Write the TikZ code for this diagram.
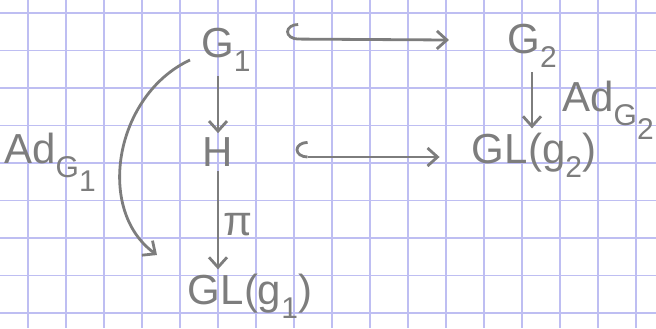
\documentclass[tikz,border=0pt]{standalone}
\usepackage{fontspec}
\setmainfont{Liberation Sans}
\usetikzlibrary{arrows.meta,positioning}
\definecolor{gridblue}{RGB}{190,190,242}
\definecolor{pencil}{RGB}{125,125,125}
\newcommand{\hsub}[1]{\raisebox{-7pt}{\fontsize{15}{15}\selectfont #1}}

\begin{document}
\begin{tikzpicture}[x=0.5pt,y=-0.5pt,
  grid/.style={draw=gridblue,line width=0.6pt},
  obj/.style={text=pencil,font=\fontsize{21}{25}\selectfont,inner sep=2pt},
  map/.style={draw=pencil,line width=1.4pt,-{Straight Barb[length=5pt,width=9pt]}},
  incl/.style={map,{Hooks[right,length=6pt,width=16pt]}-{Straight Barb[length=5pt,width=9pt]}}
]
  \useasboundingbox (0,0) rectangle (656,328);
  % Graph paper
  \foreach \x in {0,...,16} \draw[grid] (28+\x*38,0) -- (28+\x*38,328);
  \foreach \y in {0,...,8} \draw[grid] (0,13+\y*37.5) -- (656,13+\y*37.5);

  % Groups
  \node[obj] (g1) at (226,50) {G\hsub{1}};
  \node[obj] (g2) at (532,46) {G\hsub{2}};
  \node[obj] (h) at (218,152) {H};
  \node[obj] (gl2) at (534,155) {GL(g\hsub{2})};
  \node[obj] (gl1) at (250,296) {GL(g\hsub{1})};
  \node[obj] (ad1) at (50,162) {Ad\hsub{G\hsub{1}}};
  \node[obj] (ad2) at (608,110) {Ad\hsub{G\hsub{2}}};
  \coordinate (a1s) at (190,60);
  \coordinate (a1e) at (157,255);

  % Maps
  \draw[incl] ([shift={(31,-11)}]g1.east) -- ([shift={(-54,-6)}]g2.west);
  \draw[incl] ([shift={(58,5)}]h.east) -- ([shift={(-28,2)}]gl2.west);
  \draw[map] (g1.south -| h) -- (h);
  \draw[map] (g2) -- (g2 |- gl2.north);
  \draw[map] (h) -- node[obj,right,pos=0.55]{π} (h |- gl1.north);
  \draw[map] (a1s) .. controls (115,95) and (95,210) .. (a1e);
\end{tikzpicture}
\end{document}
